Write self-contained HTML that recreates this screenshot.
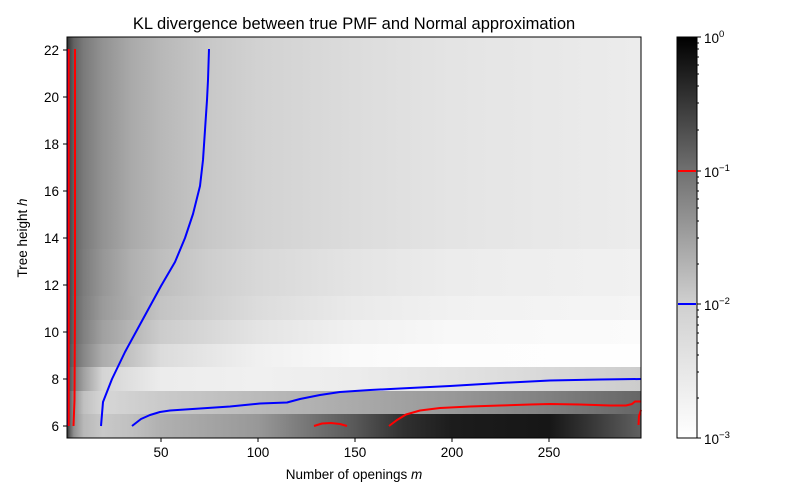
<!DOCTYPE html>
<html><head><meta charset="utf-8"><style>body{margin:0;background:#fff}svg{display:block}text{font-family:"Liberation Sans","DejaVu Sans",sans-serif;fill:#000}</style></head>
<body>
<svg width="800" height="500" viewBox="0 0 800 500">
<defs>
<linearGradient id="gU" x1="0" x2="1" y1="0" y2="0">
<stop offset="0" stop-color="#303030"/><stop offset="0.005" stop-color="#484848"/><stop offset="0.012" stop-color="#626262"/><stop offset="0.029" stop-color="#7a7a7a"/><stop offset="0.062" stop-color="#929292"/><stop offset="0.113" stop-color="#aaaaaa"/><stop offset="0.164" stop-color="#b8b8b8"/><stop offset="0.248" stop-color="#c8c8c8"/><stop offset="0.333" stop-color="#d2d2d2"/><stop offset="0.502" stop-color="#dcdcdc"/><stop offset="0.671" stop-color="#e4e4e4"/><stop offset="1" stop-color="#ececec"/></linearGradient>
<linearGradient id="gM" x1="0" x2="1" y1="0" y2="0">
<stop offset="0" stop-color="#303030"/><stop offset="0.005" stop-color="#484848"/><stop offset="0.012" stop-color="#626262"/><stop offset="0.029" stop-color="#7c7c7c"/><stop offset="0.062" stop-color="#969696"/><stop offset="0.113" stop-color="#b0b0b0"/><stop offset="0.164" stop-color="#bebebe"/><stop offset="0.248" stop-color="#cecece"/><stop offset="0.333" stop-color="#d8d8d8"/><stop offset="0.502" stop-color="#e4e4e4"/><stop offset="0.671" stop-color="#ececec"/><stop offset="1" stop-color="#f1f1f1"/></linearGradient>
<linearGradient id="g11" x1="0" x2="1" y1="0" y2="0">
<stop offset="0" stop-color="#303030"/><stop offset="0.005" stop-color="#484848"/><stop offset="0.012" stop-color="#646464"/><stop offset="0.029" stop-color="#7e7e7e"/><stop offset="0.062" stop-color="#9a9a9a"/><stop offset="0.164" stop-color="#c4c4c4"/><stop offset="0.333" stop-color="#dcdcdc"/><stop offset="0.502" stop-color="#eaeaea"/><stop offset="0.671" stop-color="#f1f1f1"/><stop offset="1" stop-color="#f5f5f5"/></linearGradient>
<linearGradient id="g10" x1="0" x2="1" y1="0" y2="0">
<stop offset="0" stop-color="#303030"/><stop offset="0.005" stop-color="#4c4c4c"/><stop offset="0.012" stop-color="#666666"/><stop offset="0.029" stop-color="#808080"/><stop offset="0.062" stop-color="#a0a0a0"/><stop offset="0.164" stop-color="#cccccc"/><stop offset="0.333" stop-color="#e4e4e4"/><stop offset="0.502" stop-color="#f1f1f1"/><stop offset="0.671" stop-color="#f8f8f8"/><stop offset="1" stop-color="#fbfbfb"/></linearGradient>
<linearGradient id="g9" x1="0" x2="1" y1="0" y2="0">
<stop offset="0" stop-color="#303030"/><stop offset="0.005" stop-color="#505050"/><stop offset="0.012" stop-color="#6a6a6a"/><stop offset="0.029" stop-color="#868686"/><stop offset="0.062" stop-color="#acacac"/><stop offset="0.164" stop-color="#dcdcdc"/><stop offset="0.333" stop-color="#f0f0f0"/><stop offset="0.502" stop-color="#fafafa"/><stop offset="0.671" stop-color="#fdfdfd"/><stop offset="1" stop-color="#fefefe"/></linearGradient>
<linearGradient id="g8" x1="0" x2="1" y1="0" y2="0">
<stop offset="0" stop-color="#303030"/><stop offset="0.005" stop-color="#555"/><stop offset="0.012" stop-color="#777"/><stop offset="0.029" stop-color="#a0a0a0"/><stop offset="0.062" stop-color="#d4d4d4"/><stop offset="0.164" stop-color="#ececec"/><stop offset="0.333" stop-color="#f0f0f0"/><stop offset="0.502" stop-color="#ececec"/><stop offset="0.671" stop-color="#e2e2e2"/><stop offset="0.84" stop-color="#d8d8d8"/><stop offset="1" stop-color="#cccccc"/></linearGradient>
<linearGradient id="g7" x1="0" x2="1" y1="0" y2="0">
<stop offset="0" stop-color="#303030"/><stop offset="0.005" stop-color="#606060"/><stop offset="0.012" stop-color="#909090"/><stop offset="0.029" stop-color="#c0c0c0"/><stop offset="0.062" stop-color="#d6d6d6"/><stop offset="0.164" stop-color="#cacaca"/><stop offset="0.333" stop-color="#bababa"/><stop offset="0.502" stop-color="#aaaaaa"/><stop offset="0.671" stop-color="#989898"/><stop offset="0.84" stop-color="#808080"/><stop offset="1" stop-color="#666666"/></linearGradient>
<linearGradient id="g6" x1="0" x2="1" y1="0" y2="0">
<stop offset="0" stop-color="#303030"/><stop offset="0.005" stop-color="#606060"/><stop offset="0.012" stop-color="#909090"/><stop offset="0.029" stop-color="#b8b8b8"/><stop offset="0.062" stop-color="#c8c8c8"/><stop offset="0.113" stop-color="#c0c0c0"/><stop offset="0.164" stop-color="#b0b0b0"/><stop offset="0.333" stop-color="#989898"/><stop offset="0.435" stop-color="#707070"/><stop offset="0.502" stop-color="#585858"/><stop offset="0.587" stop-color="#303030"/><stop offset="0.671" stop-color="#1c1c1c"/><stop offset="0.84" stop-color="#161616"/><stop offset="0.92" stop-color="#3a3a3a"/><stop offset="1" stop-color="#606060"/></linearGradient>
<linearGradient id="cb" x1="0" x2="0" y1="1" y2="0">
<stop offset="0" stop-color="#ffffff"/><stop offset="0.333" stop-color="#d0d0d0"/><stop offset="0.667" stop-color="#707070"/><stop offset="1" stop-color="#000000"/></linearGradient>
</defs>

<g>
<rect x="67" y="37" width="574" height="213" fill="url(#gU)"/>
<rect x="67" y="249" width="574" height="48" fill="url(#gM)"/>
<rect x="67" y="296" width="574" height="25" fill="url(#g11)"/>
<rect x="67" y="320" width="574" height="25" fill="url(#g10)"/>
<rect x="67" y="344" width="574" height="24" fill="url(#g9)"/>
<rect x="67" y="367" width="574" height="24" fill="url(#g8)"/>
<rect x="67" y="391" width="574" height="24" fill="url(#g7)"/>
<rect x="67" y="414" width="574" height="24" fill="url(#g6)"/>
</g>

<g fill="none" stroke-width="2" stroke-linejoin="round">
<polyline stroke="#00f" points="67.5,49 67.5,426"/>
<polyline stroke="#f00" points="68.7,49 68.7,426"/>
<polyline stroke="#f00" points="75,49 75,300 74.5,400 73.5,426"/>
<polyline stroke="#00f" points="101,426 103,402 112,379 125,352 143,319 161,286 175,262 185,238 193,214 200,186 203,160 205,130 207,100 208,80 209,49"/>
<polyline stroke="#00f" points="132,426 141,419 150,415 160,412 170,410.5 200,408.5 230,406.5 260,403.5 287,402.5 300,399 320,395 340,392 370,390 400,388.5 450,386 500,383 550,380.5 600,379.5 641,379"/>
<polyline stroke="#f00" points="314,426 322,423.5 331,423 340,424 347,426"/>
<polyline stroke="#f00" points="389,426 397,420 406,414.5 420,410.5 440,408 470,406.5 500,405.5 530,404.5 550,404 580,404.5 610,405.5 626,405.5 632,404 635,401.5 641,401.5"/>
<polyline stroke="#f00" points="638.5,425 639,416 641,410"/>
</g>

<rect x="67" y="37" width="574" height="401" fill="none" stroke="#000" stroke-width="1"/>

<g stroke="#000" stroke-width="1">
<line x1="161" y1="438" x2="161" y2="442"/><line x1="258" y1="438" x2="258" y2="442"/><line x1="355" y1="438" x2="355" y2="442"/><line x1="452" y1="438" x2="452" y2="442"/><line x1="549" y1="438" x2="549" y2="442"/>
<line x1="63" y1="426" x2="67" y2="426"/><line x1="63" y1="379" x2="67" y2="379"/><line x1="63" y1="332" x2="67" y2="332"/><line x1="63" y1="285" x2="67" y2="285"/><line x1="63" y1="238" x2="67" y2="238"/><line x1="63" y1="191" x2="67" y2="191"/><line x1="63" y1="144" x2="67" y2="144"/><line x1="63" y1="97" x2="67" y2="97"/><line x1="63" y1="50" x2="67" y2="50"/>
</g>
<g font-size="13.5" text-anchor="middle">
<text x="161" y="457">50</text><text x="258" y="457">100</text><text x="355" y="457">150</text><text x="452" y="457">200</text><text x="549" y="457">250</text>
</g>
<g font-size="13.5" text-anchor="end">
<text x="59" y="431">6</text><text x="59" y="384">8</text><text x="59" y="337">10</text><text x="59" y="290">12</text><text x="59" y="243">14</text><text x="59" y="196">16</text><text x="59" y="149">18</text><text x="59" y="102">20</text><text x="59" y="55">22</text>
</g>
<text x="354" y="479" font-size="13.5" text-anchor="middle">Number of openings <tspan font-style="italic">m</tspan></text>
<text transform="translate(27,238) rotate(-90)" font-size="13.5" text-anchor="middle">Tree height <tspan font-style="italic">h</tspan></text>
<text x="354" y="29" font-size="16.5" text-anchor="middle">KL divergence between true PMF and Normal approximation</text>

<rect x="677" y="37" width="20" height="401" fill="url(#cb)"/>
<line x1="678" y1="171" x2="696" y2="171" stroke="#f00" stroke-width="2"/>
<line x1="678" y1="304" x2="696" y2="304" stroke="#00f" stroke-width="2"/>
<rect x="677" y="37" width="20" height="401" fill="none" stroke="#000" stroke-width="1"/>
<g stroke="#000" stroke-width="1">
<line x1="697" y1="37" x2="701" y2="37"/><line x1="697" y1="171" x2="701" y2="171"/><line x1="697" y1="304" x2="701" y2="304"/><line x1="697" y1="438" x2="701" y2="438"/>
<line x1="697" y1="43" x2="699" y2="43"/><line x1="697" y1="49" x2="699" y2="49"/><line x1="697" y1="57" x2="699" y2="57"/><line x1="697" y1="65" x2="699" y2="65"/><line x1="697" y1="74" x2="699" y2="74"/><line x1="697" y1="86" x2="699" y2="86"/><line x1="697" y1="103" x2="699" y2="103"/><line x1="697" y1="130" x2="699" y2="130"/>
<line x1="697" y1="177" x2="699" y2="177"/><line x1="697" y1="183" x2="699" y2="183"/><line x1="697" y1="191" x2="699" y2="191"/><line x1="697" y1="199" x2="699" y2="199"/><line x1="697" y1="208" x2="699" y2="208"/><line x1="697" y1="221" x2="699" y2="221"/><line x1="697" y1="238" x2="699" y2="238"/><line x1="697" y1="264" x2="699" y2="264"/>
<line x1="697" y1="310" x2="699" y2="310"/><line x1="697" y1="317" x2="699" y2="317"/><line x1="697" y1="325" x2="699" y2="325"/><line x1="697" y1="333" x2="699" y2="333"/><line x1="697" y1="343" x2="699" y2="343"/><line x1="697" y1="355" x2="699" y2="355"/><line x1="697" y1="372" x2="699" y2="372"/><line x1="697" y1="398" x2="699" y2="398"/>
</g>
<g font-size="13.5">
<text x="704" y="43">10<tspan font-size="9.5" dy="-6">0</tspan></text>
<text x="704" y="177">10<tspan font-size="9.5" dy="-6">−1</tspan></text>
<text x="704" y="310">10<tspan font-size="9.5" dy="-6">−2</tspan></text>
<text x="704" y="444">10<tspan font-size="9.5" dy="-6">−3</tspan></text>
</g>
</svg>
</body></html>
